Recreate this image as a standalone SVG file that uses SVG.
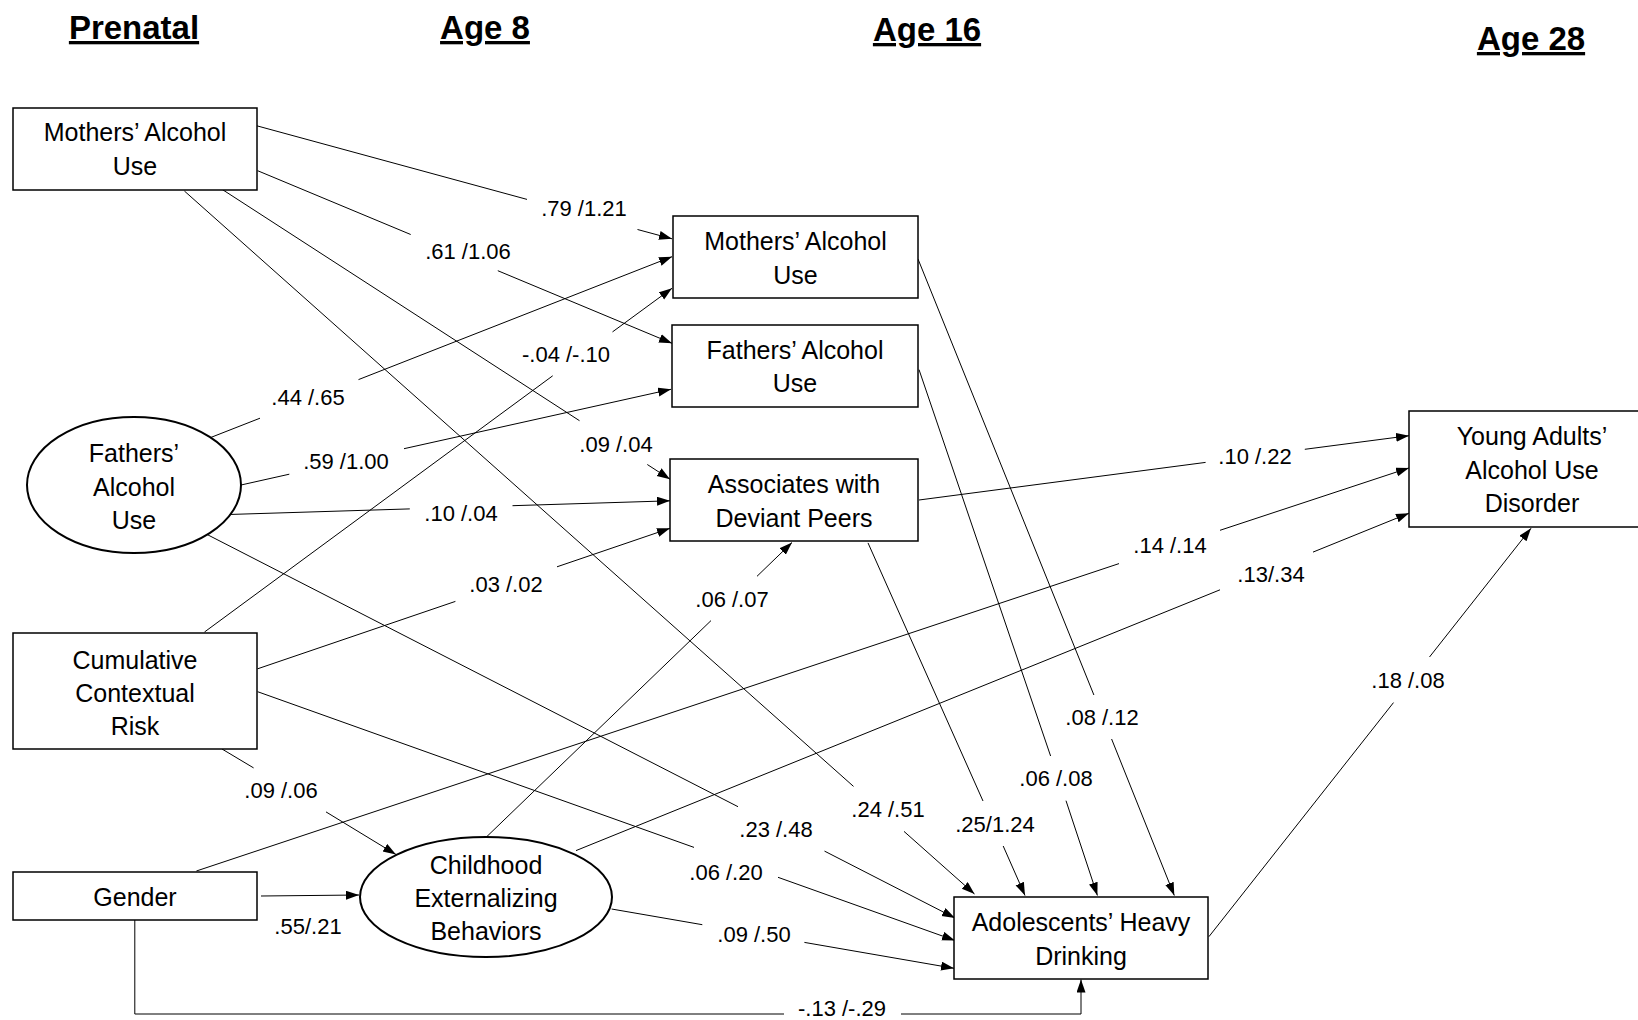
<svg xmlns="http://www.w3.org/2000/svg" width="1638" height="1020" viewBox="0 0 1638 1020">
<defs>
<marker id="arr" markerUnits="userSpaceOnUse" markerWidth="14" markerHeight="10" refX="13" refY="4.5" orient="auto">
<path d="M0,0 L13,4.5 L0,9 z" fill="#000"/>
</marker>
<style>
.hdr{font-family:"Liberation Sans",Arial,sans-serif;font-size:33px;font-weight:bold;text-decoration:underline;text-anchor:middle;fill:#000}
.nt{font-family:"Liberation Sans",Arial,sans-serif;font-size:25px;text-anchor:middle;fill:#000}
.lb{font-family:"Liberation Sans",Arial,sans-serif;font-size:22px;text-anchor:middle;fill:#000}
.box{fill:#fff;stroke:#000;stroke-width:1.5}
.ell{fill:#fff;stroke:#000;stroke-width:2}
.ln{fill:none;stroke:#000;stroke-width:1}
.ah{fill:none;stroke:#000;stroke-width:1;marker-end:url(#arr)}
</style>
</defs>
<rect width="1638" height="1020" fill="#fff"/>

<g id="headers">
<text class="hdr" x="134" y="39">Prenatal</text>
<text class="hdr" x="485" y="39">Age 8</text>
<text class="hdr" x="927" y="41">Age 16</text>
<text class="hdr" x="1531" y="50">Age 28</text>
</g>

<g id="connectors">
<line class="ln" x1="255" y1="125.3" x2="527" y2="199.4"/>
<line class="ah" x1="637.5" y1="229.5" x2="672" y2="238.8"/>
<text class="lb" x="584" y="216">.79 /1.21</text>

<line class="ln" x1="257.6" y1="170.7" x2="410.7" y2="234.5"/>
<line class="ah" x1="497.8" y1="270.7" x2="672" y2="343.3"/>
<text class="lb" x="468" y="259">.61 /1.06</text>

<line class="ln" x1="184.4" y1="191" x2="853.5" y2="786.4"/>
<line class="ah" x1="904" y1="831.4" x2="974.5" y2="894"/>
<text class="lb" x="888" y="817">.24 /.51</text>

<line class="ln" x1="222" y1="189.3" x2="579.5" y2="420.7"/>
<line class="ah" x1="647.3" y1="464.5" x2="670" y2="479.2"/>
<text class="lb" x="616" y="452">.09 /.04</text>

<line class="ln" x1="210.7" y1="437.5" x2="260" y2="418.2"/>
<line class="ah" x1="358.5" y1="379.6" x2="672" y2="256.7"/>
<text class="lb" x="308" y="405">.44 /.65</text>

<line class="ln" x1="204.5" y1="632" x2="552.7" y2="375.8"/>
<line class="ah" x1="612.5" y1="331.9" x2="672" y2="288.3"/>
<text class="lb" x="566" y="362">-.04 /-.10</text>

<line class="ln" x1="241" y1="485" x2="289.3" y2="474.2"/>
<line class="ah" x1="404" y1="448.7" x2="671" y2="389.3"/>
<text class="lb" x="346" y="469">.59 /1.00</text>

<line class="ln" x1="225.4" y1="514.6" x2="409.8" y2="508.9"/>
<line class="ah" x1="512.5" y1="505.7" x2="670" y2="500.8"/>
<text class="lb" x="461" y="521">.10 /.04</text>

<line class="ln" x1="203" y1="532.4" x2="738" y2="806.7"/>
<line class="ah" x1="824.5" y1="851.1" x2="955" y2="918"/>
<text class="lb" x="776" y="837">.23 /.48</text>

<line class="ln" x1="257.6" y1="668.8" x2="455.4" y2="601.4"/>
<line class="ah" x1="557" y1="566.8" x2="670" y2="528.3"/>
<text class="lb" x="506" y="592">.03 /.02</text>

<line class="ln" x1="257.6" y1="691.7" x2="694" y2="847.4"/>
<line class="ah" x1="778" y1="877.3" x2="955" y2="940.5"/>
<text class="lb" x="726" y="880">.06 /.20</text>

<line class="ln" x1="222" y1="749" x2="253.6" y2="767.9"/>
<line class="ah" x1="326" y1="811.9" x2="396" y2="854.5"/>
<text class="lb" x="281" y="798">.09 /.06</text>

<line class="ah" x1="261" y1="896" x2="359" y2="895"/>
<text class="lb" x="308" y="934">.55/.21</text>

<line class="ln" x1="196.4" y1="871" x2="1119" y2="563.6"/>
<line class="ah" x1="1220" y1="530.3" x2="1409" y2="467.9"/>
<text class="lb" x="1170" y="553">.14 /.14</text>

<line class="ln" x1="576" y1="850.6" x2="1220" y2="589.8"/>
<line class="ah" x1="1313" y1="552.1" x2="1409" y2="513.2"/>
<text class="lb" x="1271" y="582">.13/.34</text>

<line class="ln" x1="486.6" y1="836.8" x2="711" y2="620.6"/>
<line class="ah" x1="757" y1="576.3" x2="792" y2="542.5"/>
<text class="lb" x="732" y="607">.06 /.07</text>

<line class="ln" x1="611.6" y1="909" x2="702.3" y2="924.7"/>
<line class="ah" x1="804.4" y1="942.4" x2="954" y2="968.3"/>
<text class="lb" x="754" y="942">.09 /.50</text>

<polyline class="ln" points="134.8,920 134.8,1014 784,1014"/>
<polyline class="ah" points="901,1014 1081,1014 1081,979.5"/>
<text class="lb" x="842" y="1016">-.13 /-.29</text>

<line class="ln" x1="918" y1="259" x2="1093.9" y2="695"/>
<line class="ah" x1="1111.6" y1="739" x2="1174.3" y2="895.5"/>
<text class="lb" x="1102" y="725">.08 /.12</text>

<line class="ln" x1="919" y1="369.6" x2="1050.6" y2="756"/>
<line class="ah" x1="1066" y1="800.7" x2="1097.4" y2="895.5"/>
<text class="lb" x="1056" y="786">.06 /.08</text>

<line class="ln" x1="868" y1="542.9" x2="983" y2="801"/>
<line class="ah" x1="1003.2" y1="846" x2="1025" y2="895.5"/>
<text class="lb" x="995" y="832">.25/1.24</text>

<line class="ln" x1="919" y1="500" x2="1205.6" y2="462.4"/>
<line class="ah" x1="1304.8" y1="449.3" x2="1409" y2="435.7"/>
<text class="lb" x="1255" y="464">.10 /.22</text>

<line class="ln" x1="1208.9" y1="936.7" x2="1393.5" y2="702.6"/>
<line class="ah" x1="1429.5" y1="657" x2="1531" y2="528.3"/>
<text class="lb" x="1408" y="688">.18 /.08</text>
</g>

<g id="node-mothers-prenatal">
<rect class="box" x="13" y="108" width="244" height="82"/>
<text class="nt" x="135" y="141">Mothers’ Alcohol</text>
<text class="nt" x="135" y="175">Use</text>
</g>
<g id="node-fathers-prenatal">
<ellipse class="ell" cx="134" cy="485" rx="107" ry="68"/>
<text class="nt" x="134" y="462">Fathers’</text>
<text class="nt" x="134" y="496">Alcohol</text>
<text class="nt" x="134" y="529">Use</text>
</g>
<g id="node-cumulative">
<rect class="box" x="13" y="633" width="244" height="116"/>
<text class="nt" x="135" y="669">Cumulative</text>
<text class="nt" x="135" y="702">Contextual</text>
<text class="nt" x="135" y="735">Risk</text>
</g>
<g id="node-gender">
<rect class="box" x="13" y="872" width="244" height="48"/>
<text class="nt" x="135" y="906">Gender</text>
</g>
<g id="node-childhood">
<ellipse class="ell" cx="486" cy="897" rx="126" ry="60"/>
<text class="nt" x="486" y="874">Childhood</text>
<text class="nt" x="486" y="907">Externalizing</text>
<text class="nt" x="486" y="940">Behaviors</text>
</g>
<g id="node-mothers-16">
<rect class="box" x="673" y="216" width="245" height="82"/>
<text class="nt" x="795.5" y="250">Mothers’ Alcohol</text>
<text class="nt" x="795.5" y="284">Use</text>
</g>
<g id="node-fathers-16">
<rect class="box" x="672" y="325" width="246" height="82"/>
<text class="nt" x="795" y="359">Fathers’ Alcohol</text>
<text class="nt" x="795" y="392">Use</text>
</g>
<g id="node-associates">
<rect class="box" x="670" y="459" width="248" height="82"/>
<text class="nt" x="794" y="493">Associates with</text>
<text class="nt" x="794" y="527">Deviant Peers</text>
</g>
<g id="node-adolescents">
<rect class="box" x="954" y="897" width="254" height="82"/>
<text class="nt" x="1081" y="931">Adolescents’ Heavy</text>
<text class="nt" x="1081" y="965">Drinking</text>
</g>
<g id="node-young-adults">
<rect class="box" x="1409" y="411" width="246" height="116"/>
<text class="nt" x="1532" y="445">Young Adults’</text>
<text class="nt" x="1532" y="479">Alcohol Use</text>
<text class="nt" x="1532" y="512">Disorder</text>
</g>
</svg>
